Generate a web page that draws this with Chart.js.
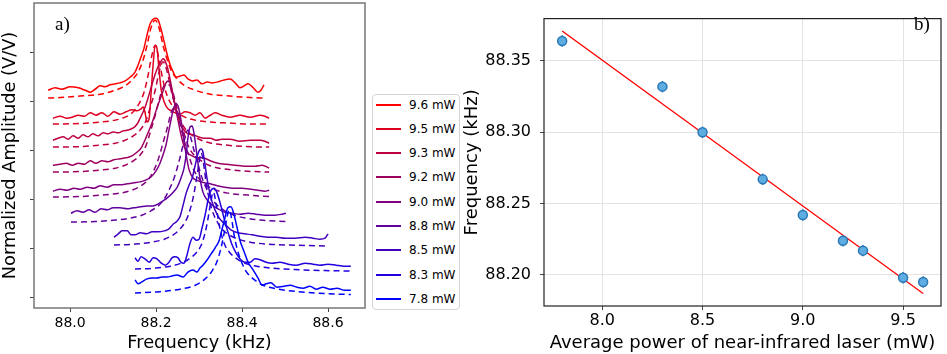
<!DOCTYPE html>
<html><head><meta charset="utf-8">
<script src="https://cdn.jsdelivr.net/npm/chart.js@4.4.1/dist/chart.umd.min.js"></script>
<style>
html,body{margin:0;padding:0;background:#fff;}
body{width:947px;height:354px;position:relative;overflow:hidden;font-family:"DejaVu Sans",sans-serif;}
#ca{position:absolute;left:0;top:0;width:370px;height:354px;}
#cb{position:absolute;left:462px;top:0;width:485px;height:354px;}
.plabel{position:absolute;font-family:"Liberation Serif","Times New Roman",serif;font-size:19px;line-height:19px;color:#000;}
#legend{position:absolute;left:372px;top:94px;width:88px;height:216px;border:1px solid #d4d4d4;border-radius:4px;box-sizing:border-box;background:#fff;}
.lrow{position:absolute;left:0;width:86px;height:14px;}
.lline{position:absolute;left:3px;top:6px;width:25px;height:2px;}
.ltext{position:absolute;left:36px;top:-1px;font-family:"DejaVu Sans",sans-serif;font-size:12px;line-height:16px;color:#000;white-space:nowrap;}
</style>
</head><body>
<canvas id="ca" width="370" height="354"></canvas>
<canvas id="cb" width="485" height="354"></canvas>
<div class="plabel" style="left:55px;top:14px;">a)</div>
<div class="plabel" style="left:914px;top:14px;">b)</div>
<div id="legend"></div>
<script>
// ---------- Panel a: data ----------
const seriesLabels = ['9.6 mW','9.5 mW','9.3 mW','9.2 mW','9.0 mW','8.8 mW','8.5 mW','8.3 mW','7.8 mW'];
const aTicksX = [88.0, 88.2, 88.4, 88.6];
const aTicksY = [0, 1, 2, 3, 4, 5];

// measured responses (frequency kHz, offset amplitude)
const meas96 = [[87.949,4.22],[87.965,4.27],[87.981,4.24],[88.000,4.29],[88.019,4.27],[88.035,4.22],[88.047,4.18],[88.058,4.24],[88.070,4.31],[88.081,4.29],[88.093,4.33],[88.105,4.35],[88.116,4.37],[88.128,4.41],[88.140,4.49],[88.151,4.59],[88.158,4.73],[88.165,4.90],[88.172,5.08],[88.179,5.35],[88.186,5.57],[88.193,5.67],[88.200,5.69],[88.205,5.65],[88.212,5.45],[88.219,5.20],[88.226,4.94],[88.233,4.73],[88.240,4.59],[88.247,4.49],[88.256,4.51],[88.265,4.53],[88.274,4.45],[88.284,4.41],[88.295,4.43],[88.307,4.35],[88.319,4.39],[88.330,4.37],[88.344,4.39],[88.358,4.43],[88.372,4.45],[88.386,4.35],[88.395,4.27],[88.405,4.31],[88.414,4.35],[88.426,4.27],[88.437,4.18],[88.444,4.22],[88.451,4.33]];
const meas95 = [[87.960,3.65],[87.977,3.69],[87.991,3.65],[88.005,3.67],[88.019,3.71],[88.033,3.69],[88.047,3.76],[88.060,3.71],[88.074,3.76],[88.088,3.69],[88.102,3.78],[88.116,3.73],[88.130,3.78],[88.144,3.82],[88.156,3.80],[88.165,3.84],[88.170,3.88],[88.174,3.78],[88.179,3.57],[88.184,3.65],[88.188,4.12],[88.193,4.73],[88.198,5.14],[88.202,5.08],[88.207,4.63],[88.212,4.22],[88.219,3.98],[88.226,3.86],[88.235,3.80],[88.244,3.76],[88.256,3.73],[88.267,3.78],[88.279,3.76],[88.291,3.71],[88.302,3.76],[88.314,3.65],[88.326,3.71],[88.337,3.76],[88.353,3.71],[88.372,3.67],[88.395,3.71],[88.419,3.67],[88.442,3.71],[88.453,3.69],[88.463,3.65]];
const meas93 = [[87.960,3.20],[87.972,3.24],[87.984,3.27],[87.995,3.22],[88.007,3.29],[88.019,3.24],[88.030,3.31],[88.042,3.27],[88.053,3.33],[88.065,3.29],[88.077,3.35],[88.088,3.33],[88.100,3.37],[88.112,3.35],[88.123,3.39],[88.135,3.41],[88.147,3.45],[88.156,3.53],[88.163,3.65],[88.170,3.78],[88.177,3.94],[88.184,4.14],[88.191,4.35],[88.198,4.55],[88.205,4.71],[88.212,4.82],[88.216,4.86],[88.221,4.82],[88.228,4.63],[88.235,4.33],[88.242,4.02],[88.249,3.73],[88.256,3.53],[88.265,3.41],[88.274,3.33],[88.286,3.31],[88.298,3.27],[88.312,3.24],[88.326,3.24],[88.340,3.20],[88.353,3.22],[88.372,3.22],[88.395,3.18],[88.419,3.20],[88.442,3.20],[88.453,3.18],[88.463,3.14]];
const meas92 = [[87.960,2.69],[87.977,2.71],[87.991,2.73],[88.005,2.69],[88.019,2.73],[88.033,2.71],[88.047,2.78],[88.060,2.73],[88.074,2.78],[88.088,2.76],[88.102,2.80],[88.116,2.82],[88.130,2.84],[88.144,2.88],[88.156,2.96],[88.165,3.04],[88.174,3.20],[88.184,3.41],[88.193,3.61],[88.202,3.86],[88.212,4.10],[88.219,4.27],[88.223,4.37],[88.228,4.41],[88.233,4.35],[88.237,4.18],[88.244,3.92],[88.251,3.61],[88.258,3.31],[88.265,3.08],[88.274,2.94],[88.284,2.88],[88.295,2.84],[88.309,2.84],[88.326,2.78],[88.344,2.73],[88.363,2.71],[88.384,2.69],[88.407,2.67],[88.430,2.67],[88.447,2.69],[88.463,2.63]];
const meas90 = [[87.960,2.16],[87.977,2.20],[87.993,2.18],[88.009,2.22],[88.023,2.20],[88.040,2.24],[88.056,2.22],[88.070,2.27],[88.086,2.24],[88.102,2.29],[88.116,2.29],[88.133,2.31],[88.149,2.33],[88.163,2.35],[88.177,2.39],[88.188,2.45],[88.198,2.55],[88.207,2.69],[88.216,2.90],[88.223,3.10],[88.230,3.41],[88.237,3.71],[88.242,3.88],[88.247,3.94],[88.251,3.90],[88.256,3.71],[88.263,3.31],[88.270,2.90],[88.277,2.59],[88.286,2.43],[88.298,2.37],[88.312,2.33],[88.326,2.31],[88.342,2.27],[88.360,2.24],[88.379,2.22],[88.400,2.22],[88.419,2.20],[88.437,2.18],[88.453,2.16],[88.463,2.18]];
const meas88 = [[88.002,1.71],[88.016,1.76],[88.030,1.73],[88.044,1.78],[88.058,1.73],[88.072,1.80],[88.086,1.78],[88.100,1.82],[88.116,1.82],[88.133,1.80],[88.147,1.82],[88.163,1.84],[88.179,1.86],[88.193,1.86],[88.205,1.90],[88.216,1.96],[88.228,2.04],[88.240,2.14],[88.249,2.24],[88.258,2.43],[88.265,2.63],[88.270,2.90],[88.274,3.24],[88.279,3.47],[88.284,3.49],[88.288,3.35],[88.295,2.90],[88.302,2.43],[88.309,2.14],[88.319,1.98],[88.330,1.88],[88.344,1.80],[88.360,1.73],[88.377,1.71],[88.395,1.69],[88.414,1.71],[88.433,1.69],[88.453,1.67],[88.477,1.67],[88.493,1.69],[88.502,1.71]];
const meas85 = [[88.102,1.22],[88.112,1.29],[88.121,1.35],[88.133,1.35],[88.142,1.27],[88.151,1.27],[88.163,1.31],[88.177,1.29],[88.191,1.33],[88.205,1.33],[88.219,1.35],[88.230,1.39],[88.240,1.49],[88.249,1.55],[88.256,1.65],[88.263,1.88],[88.270,2.12],[88.277,2.29],[88.284,2.43],[88.291,2.69],[88.298,2.94],[88.305,3.02],[88.309,2.96],[88.314,2.69],[88.319,2.39],[88.326,2.08],[88.335,1.82],[88.347,1.61],[88.360,1.49],[88.374,1.37],[88.391,1.31],[88.407,1.29],[88.423,1.27],[88.442,1.24],[88.460,1.22],[88.479,1.22],[88.500,1.20],[88.523,1.20],[88.547,1.22],[88.565,1.20],[88.581,1.18],[88.593,1.20],[88.600,1.29]];
const meas83 = [[88.151,0.80],[88.158,0.73],[88.165,0.82],[88.174,0.78],[88.184,0.71],[88.193,0.80],[88.202,0.78],[88.212,0.69],[88.221,0.65],[88.230,0.71],[88.237,0.80],[88.244,0.82],[88.251,0.80],[88.258,0.71],[88.265,0.69],[88.272,0.86],[88.279,1.10],[88.286,1.22],[88.293,1.16],[88.300,1.18],[88.307,1.41],[88.314,1.67],[88.321,1.98],[88.328,2.18],[88.335,2.22],[88.342,2.12],[88.349,1.92],[88.358,1.61],[88.367,1.33],[88.377,1.06],[88.386,0.90],[88.395,0.78],[88.407,0.71],[88.419,0.71],[88.430,0.78],[88.442,0.76],[88.456,0.71],[88.470,0.69],[88.488,0.71],[88.507,0.67],[88.526,0.65],[88.547,0.69],[88.565,0.67],[88.581,0.65],[88.600,0.67],[88.619,0.65],[88.637,0.63],[88.653,0.63]];
const meas78 = [[88.151,0.35],[88.158,0.27],[88.167,0.31],[88.179,0.37],[88.191,0.39],[88.202,0.39],[88.214,0.41],[88.226,0.41],[88.237,0.43],[88.249,0.45],[88.263,0.41],[88.274,0.51],[88.286,0.55],[88.295,0.51],[88.302,0.59],[88.309,0.65],[88.319,0.76],[88.328,0.88],[88.337,1.00],[88.347,1.16],[88.353,1.37],[88.360,1.61],[88.367,1.82],[88.374,1.84],[88.381,1.69],[88.388,1.43],[88.395,1.16],[88.405,0.92],[88.414,0.71],[88.426,0.55],[88.437,0.39],[88.447,0.24],[88.456,0.27],[88.467,0.29],[88.481,0.20],[88.498,0.22],[88.512,0.24],[88.528,0.20],[88.542,0.18],[88.558,0.22],[88.572,0.16],[88.588,0.20],[88.605,0.16],[88.621,0.18],[88.637,0.14],[88.653,0.14]];

// Lorentzian fits (dashed)
const fit96 = [[87.949,4.06],[87.977,4.07],[88.023,4.10],[88.070,4.14],[88.105,4.22],[88.128,4.31],[88.144,4.43],[88.158,4.59],[88.170,4.84],[88.179,5.14],[88.188,5.49],[88.198,5.65],[88.207,5.49],[88.216,5.14],[88.226,4.84],[88.237,4.59],[88.251,4.43],[88.267,4.31],[88.291,4.22],[88.326,4.14],[88.372,4.10],[88.419,4.07],[88.451,4.06]];
const fit95 = [[87.960,3.53],[88.023,3.54],[88.070,3.57],[88.105,3.61],[88.128,3.67],[88.147,3.78],[88.160,3.94],[88.172,4.18],[88.181,4.51],[88.188,4.84],[88.198,5.14],[88.207,4.84],[88.214,4.51],[88.223,4.18],[88.235,3.94],[88.249,3.78],[88.267,3.67],[88.291,3.61],[88.326,3.57],[88.372,3.55],[88.419,3.53],[88.463,3.53]];
const fit93 = [[87.960,3.06],[88.023,3.07],[88.070,3.10],[88.105,3.14],[88.128,3.20],[88.147,3.29],[88.163,3.41],[88.177,3.61],[88.188,3.92],[88.198,4.22],[88.207,4.59],[88.216,4.80],[88.226,4.59],[88.235,4.22],[88.244,3.92],[88.256,3.61],[88.270,3.41],[88.286,3.29],[88.305,3.20],[88.328,3.14],[88.363,3.10],[88.409,3.07],[88.463,3.06]];
const fit92 = [[87.960,2.55],[88.023,2.56],[88.070,2.59],[88.105,2.63],[88.128,2.69],[88.147,2.78],[88.163,2.90],[88.177,3.10],[88.188,3.41],[88.198,3.71],[88.207,4.02],[88.216,4.27],[88.226,4.35],[88.235,4.27],[88.244,4.02],[88.253,3.71],[88.263,3.41],[88.274,3.10],[88.288,2.90],[88.305,2.78],[88.323,2.69],[88.347,2.63],[88.381,2.59],[88.428,2.56],[88.463,2.55]];
const fit90 = [[87.960,2.04],[88.023,2.05],[88.070,2.08],[88.116,2.12],[88.144,2.18],[88.165,2.27],[88.181,2.39],[88.195,2.59],[88.207,2.86],[88.216,3.14],[88.226,3.45],[88.235,3.76],[88.242,3.86],[88.249,3.76],[88.258,3.45],[88.267,3.14],[88.277,2.86],[88.288,2.59],[88.302,2.39],[88.319,2.27],[88.340,2.18],[88.367,2.12],[88.414,2.08],[88.463,2.05]];
const fit88 = [[88.002,1.53],[88.058,1.54],[88.105,1.57],[88.140,1.61],[88.167,1.67],[88.188,1.76],[88.205,1.86],[88.219,2.00],[88.230,2.18],[88.242,2.43],[88.251,2.69],[88.260,3.00],[88.267,3.24],[88.274,3.41],[88.281,3.24],[88.288,3.00],[88.298,2.69],[88.307,2.43],[88.319,2.18],[88.330,2.00],[88.344,1.86],[88.360,1.76],[88.381,1.67],[88.409,1.61],[88.444,1.57],[88.502,1.54]];
const fit85 = [[88.102,1.06],[88.151,1.08],[88.191,1.12],[88.219,1.18],[88.240,1.27],[88.256,1.39],[88.270,1.57],[88.279,1.78],[88.286,2.02],[88.293,2.35],[88.298,2.63],[88.305,2.94],[88.312,2.63],[88.316,2.35],[88.323,2.02],[88.330,1.78],[88.340,1.57],[88.353,1.39],[88.370,1.27],[88.391,1.18],[88.419,1.12],[88.458,1.08],[88.512,1.06],[88.600,1.04]];
const fit83 = [[88.151,0.57],[88.198,0.59],[88.233,0.63],[88.258,0.69],[88.277,0.78],[88.293,0.90],[88.305,1.06],[88.314,1.31],[88.321,1.61],[88.326,1.88],[88.333,2.14],[88.340,1.88],[88.344,1.61],[88.351,1.31],[88.360,1.06],[88.372,0.90],[88.388,0.78],[88.407,0.69],[88.433,0.63],[88.467,0.59],[88.523,0.56],[88.593,0.54],[88.653,0.53]];
const fit78 = [[88.151,0.08],[88.209,0.11],[88.256,0.16],[88.291,0.24],[88.314,0.37],[88.330,0.53],[88.342,0.73],[88.351,1.00],[88.358,1.29],[88.363,1.53],[88.370,1.78],[88.377,1.53],[88.381,1.29],[88.388,1.00],[88.398,0.73],[88.409,0.53],[88.426,0.37],[88.449,0.24],[88.484,0.16],[88.530,0.11],[88.593,0.07],[88.653,0.05]];

// ---------- Panel b: data ----------
const powerMW  = [7.8, 8.3, 8.5, 8.8, 9.0, 9.2, 9.3, 9.5, 9.6];
const peakFreq = [88.364, 88.332, 88.300, 88.267, 88.242, 88.224, 88.217, 88.198, 88.195];
const peakErr  = [0.004, 0.004, 0.004, 0.004, 0.004, 0.004, 0.004, 0.004, 0.004];
const fitPower = [7.8, 9.6];
const fitFreq  = [88.371, 88.187];
const bTicksX = [8.0, 8.5, 9.0, 9.5];
const bTicksY = [88.20, 88.25, 88.30, 88.35];

// ---------- build ----------
const measured = [meas96, meas95, meas93, meas92, meas90, meas88, meas85, meas83, meas78];
const fitted   = [fit96, fit95, fit93, fit92, fit90, fit88, fit85, fit83, fit78];
const nS = seriesLabels.length;
const seriesColors = seriesLabels.map((_, i) => {
  const t = i / (nS - 1);
  return `rgb(${Math.round(255 * (1 - t))},0,${Math.round(255 * t)})`;
});
const toXY = arr => arr.map(([x, y]) => ({x, y}));

const datasetsA = [];
seriesLabels.forEach((lab, i) => {
  datasetsA.push({label: lab, data: toXY(measured[i]), borderColor: seriesColors[i], borderWidth: 1.5,
    pointRadius: 0, cubicInterpolationMode: 'monotone', fill: false, order: 100 - 2 * i});
  datasetsA.push({label: lab + ' fit', data: toXY(fitted[i]), borderColor: seriesColors[i], borderWidth: 1.5,
    borderDash: [6, 4], pointRadius: 0, cubicInterpolationMode: 'monotone', fill: false, order: 101 - 2 * i});
});

const framePlugin = (color, width) => ({
  id: 'frame',
  afterDraw(chart) {
    const {ctx, chartArea: a} = chart;
    ctx.save();
    ctx.strokeStyle = color; ctx.lineWidth = width;
    ctx.strokeRect(a.left, a.top, a.right - a.left, a.bottom - a.top);
    ctx.restore();
  }
});

const fontA = {family: "'DejaVu Sans', sans-serif", size: 14};
const titleFontA = {family: "'DejaVu Sans', sans-serif", size: 17.8};

new Chart(document.getElementById('ca'), {
  type: 'line',
  data: {datasets: datasetsA},
  options: {
    responsive: false, animation: false, events: [],
    layout: {padding: {top: 3, right: 5, left: 0, bottom: 0}},
    plugins: {legend: {display: false}, tooltip: {enabled: false}},
    scales: {
      x: {
        type: 'linear', min: 87.916, max: 88.686,
        afterBuildTicks: s => { s.ticks = aTicksX.map(v => ({value: v})); },
        afterFit: s => { s.height = 46; },
        ticks: {callback: v => Number(v).toFixed(1), font: fontA, color: '#000', padding: 3, maxRotation: 0},
        grid: {drawOnChartArea: false, tickLength: 4, tickColor: '#444'},
        border: {display: false},
        title: {display: true, text: 'Frequency (kHz)', font: titleFontA, color: '#000', padding: 0}
      },
      y: {
        type: 'linear', min: -0.224, max: 6.0,
        afterBuildTicks: s => { s.ticks = aTicksY.map(v => ({value: v})); },
        afterFit: s => { s.width = 34; },
        ticks: {display: false},
        grid: {drawOnChartArea: false, tickLength: 4, tickColor: '#444'},
        border: {display: false},
        title: {display: true, text: 'Normalized Amplitude (V/V)', font: titleFontA, color: '#000', padding: 0}
      }
    }
  },
  plugins: [framePlugin('#777', 1.5)]
});

// legend for panel a
const leg = document.getElementById('legend');
seriesLabels.forEach((lab, i) => {
  const row = document.createElement('div');
  row.className = 'lrow';
  row.style.top = (2.5 + i * 24.3) + 'px';
  const ln = document.createElement('div'); ln.className = 'lline'; ln.style.background = seriesColors[i];
  const tx = document.createElement('div'); tx.className = 'ltext'; tx.textContent = lab;
  row.appendChild(ln); row.appendChild(tx); leg.appendChild(row);
});

// panel b
const errorBars = {
  id: 'errorBars',
  beforeDatasetDraw(chart, args) {
    if (args.index !== 0) return;
    const {ctx, scales: {x, y}} = chart;
    ctx.save();
    ctx.strokeStyle = '#2a78b5'; ctx.lineWidth = 1.5;
    powerMW.forEach((p, i) => {
      const px = x.getPixelForValue(p);
      ctx.beginPath();
      ctx.moveTo(px, y.getPixelForValue(peakFreq[i] - peakErr[i]));
      ctx.lineTo(px, y.getPixelForValue(peakFreq[i] + peakErr[i]));
      ctx.stroke();
    });
    ctx.restore();
  }
};
const fontB = {family: "'DejaVu Sans', sans-serif", size: 16};
const titleFontB = {family: "'DejaVu Sans', sans-serif", size: 18};

new Chart(document.getElementById('cb'), {
  type: 'scatter',
  data: {
    datasets: [
      {label: 'measured', data: powerMW.map((p, i) => ({x: p, y: peakFreq[i]})),
       pointRadius: 4.5, pointBackgroundColor: '#5dade2', pointBorderColor: '#2a78b5', pointBorderWidth: 1.5, order: 0},
      {label: 'fit', type: 'line', data: fitPower.map((p, i) => ({x: p, y: fitFreq[i]})),
       borderColor: '#ff0000', borderWidth: 1.3, pointRadius: 0, fill: false, order: 1}
    ]
  },
  options: {
    responsive: false, animation: false, events: [],
    layout: {padding: {top: 1, right: 1, left: 0, bottom: 0}},
    plugins: {legend: {display: false}, tooltip: {enabled: false}},
    scales: {
      x: {
        type: 'linear', min: 7.7095, max: 9.689,
        afterBuildTicks: s => { s.ticks = bTicksX.map(v => ({value: v})); },
        afterFit: s => { s.height = 48; },
        ticks: {callback: v => Number(v).toFixed(1), font: fontB, color: '#000', padding: 1, maxRotation: 0},
        grid: {color: '#e3e3e3', tickLength: 4, tickColor: '#444'},
        border: {display: false},
        title: {display: true, text: 'Average power of near-infrared laser (mW)', font: titleFontB, color: '#000', padding: 0}
      },
      y: {
        type: 'linear', min: 88.1782, max: 88.3797,
        afterBuildTicks: s => { s.ticks = bTicksY.map(v => ({value: v})); },
        afterFit: s => { s.width = 82; },
        ticks: {callback: v => Number(v).toFixed(2), font: fontB, color: '#000', padding: 9},
        grid: {color: '#e3e3e3', tickLength: 4, tickColor: '#444'},
        border: {display: false},
        title: {display: true, text: 'Frequency (kHz)', font: titleFontB, color: '#000', padding: 0}
      }
    }
  },
  plugins: [errorBars, framePlugin('#222', 1.2)]
});
</script>
</body></html>
